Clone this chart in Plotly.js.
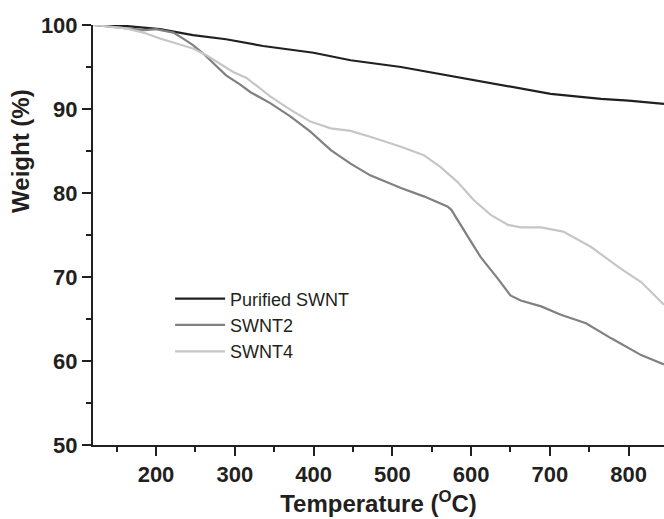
<!DOCTYPE html>
<html>
<head>
<meta charset="utf-8">
<script src="https://cdn.plot.ly/plotly-3.0.1.min.js"></script>
<style>html,body{margin:0;padding:0;background:#fff;}#chart{width:664px;height:519px;}</style>
</head>
<body>
<div id="chart"></div>
<script>
var seriesNames = ["Purified SWNT", "SWNT2", "SWNT4"];

var tempPurified = [120,160,205,247,289,336,400,447,511,570,638,701,765,800,845];
var weightPurified = [100,99.9,99.5,98.8,98.3,97.5,96.7,95.8,95.0,94.0,92.9,91.8,91.2,91.0,90.6];

var tempSWNT2 = [120,162,185,200,222,234,247,260,273,289,307,320,345,371,396,422,447,472,511,540,570,575,596,612,634,650,663,689,714,746,778,816,845];
var weightSWNT2 = [100,99.6,99.4,99.5,99.1,98.4,97.6,96.6,95.4,94.0,92.9,92.0,90.7,89.1,87.3,85.1,83.5,82.1,80.6,79.6,78.4,78.0,74.8,72.4,69.8,67.8,67.2,66.5,65.5,64.5,62.7,60.7,59.6];

var tempSWNT4 = [120,162,184,205,226,247,264,281,298,315,336,345,371,396,422,447,472,511,540,561,583,603,625,647,663,689,717,752,790,816,845];
var weightSWNT4 = [100,99.6,99.1,98.4,97.8,97.2,96.4,95.4,94.4,93.7,92.1,91.5,89.9,88.5,87.7,87.4,86.7,85.5,84.5,83.1,81.3,79.2,77.4,76.2,75.9,75.9,75.4,73.6,71.0,69.4,66.7];

var xTickVals = [200,300,400,500,600,700,800];
var yTickVals = [50,60,70,80,90,100];
var xTitle = "<b>Temperature (<sup>O</sup>C)</b>";
var yTitle = "<b>Weight (%)</b>";

var ink = "#231f20";
var fam = "Liberation Sans, Arial, sans-serif";
var traces = [
  {x: tempPurified, y: weightPurified, name: seriesNames[0], mode: "lines", line: {color: "#231f20", width: 2.2}},
  {x: tempSWNT2, y: weightSWNT2, name: seriesNames[1], mode: "lines", line: {color: "#808080", width: 2.2}},
  {x: tempSWNT4, y: weightSWNT4, name: seriesNames[2], mode: "lines", line: {color: "#c6c6c6", width: 2.2}}
];

var layout = {
  width: 664, height: 519,
  margin: {l: 93, r: 0, t: 25, b: 74},
  paper_bgcolor: "#fff", plot_bgcolor: "#fff",
  font: {family: fam, color: ink},
  showlegend: true,
  legend: {x: 0.135, y: 0.392, xanchor: "left", yanchor: "top", bgcolor: "rgba(0,0,0,0)",
           font: {size: 18, color: ink, family: fam}, itemwidth: 50, tracegroupgap: 0},
  xaxis: {
    range: [120, 845], showgrid: false, zeroline: false,
    showline: true, linecolor: ink, linewidth: 2,
    ticks: "outside", ticklen: 9, tickwidth: 2, tickcolor: ink,
    tickvals: xTickVals, ticktext: xTickVals.map(String),
    tickfont: {size: 22, family: fam, weight: "bold", color: ink},
    minor: {dtick: 50, tick0: 0, ticks: "outside", ticklen: 5, tickwidth: 2, tickcolor: ink, showgrid: false},
    title: {text: xTitle, font: {size: 24, color: ink, family: fam}, standoff: 0}
  },
  yaxis: {
    range: [50, 100], showgrid: false, zeroline: false,
    showline: true, linecolor: ink, linewidth: 2,
    ticks: "outside", ticklen: 9, tickwidth: 2, tickcolor: ink,
    tickvals: yTickVals, ticktext: yTickVals.map(String),
    tickfont: {size: 22, family: fam, weight: "bold", color: ink},
    minor: {dtick: 5, tick0: 0, ticks: "outside", ticklen: 5, tickwidth: 2, tickcolor: ink, showgrid: false}
  },
  annotations: [
    {text: yTitle, xref: "paper", yref: "paper", x: -0.128, y: 0.70, xanchor: "center", yanchor: "middle",
     textangle: -90, showarrow: false, font: {size: 24, color: ink, family: fam}}
  ]
};

Plotly.newPlot("chart", traces, layout, {displayModeBar: false, staticPlot: true});
</script>
</body>
</html>
